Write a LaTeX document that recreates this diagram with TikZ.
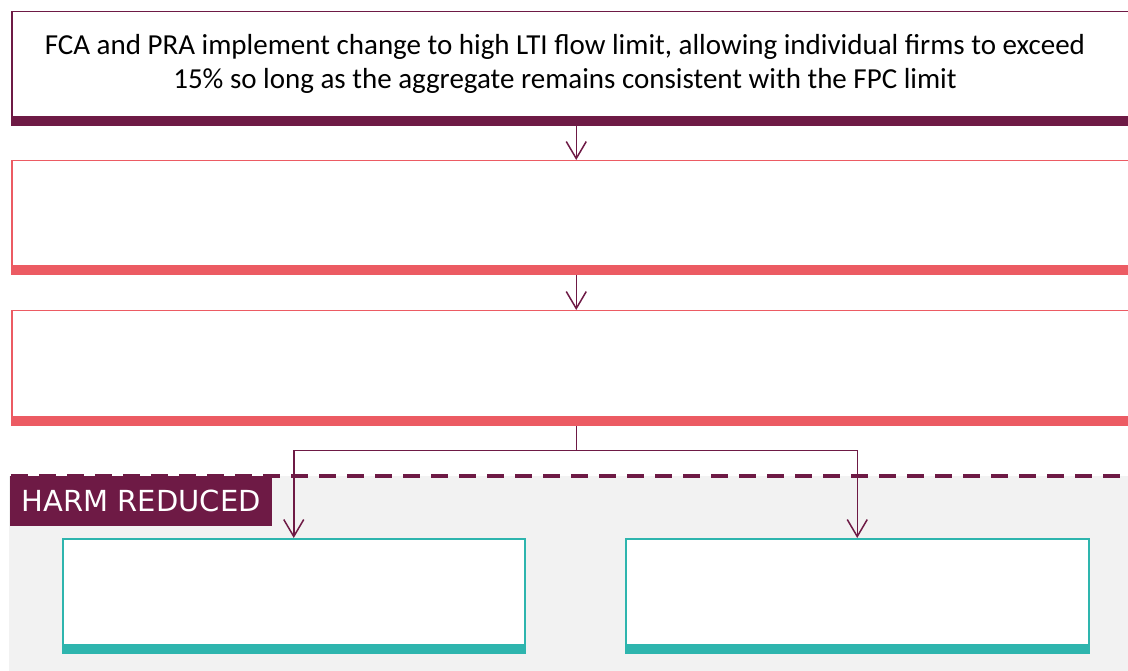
\documentclass[tikz,border=0pt]{standalone}
\usepackage{fontspec}
\setmainfont{Carlito}
\newfontfamily\harmfont{DejaVu Sans}
\usetikzlibrary{arrows.meta}
\definecolor{plum}{HTML}{6E1A45}
\definecolor{salmon}{HTML}{EC5B63}
\definecolor{tealbar}{HTML}{2EB5AE}
\definecolor{harmgrey}{HTML}{F2F2F2}
\begin{document}
\begin{tikzpicture}[x=1pt,y=-1pt,
    stage/.style={draw=#1,line width=1.5pt,fill=white,anchor=north west,inner sep=0pt,minimum height=109pt},
    bar/.style={draw=#1,line width=10pt},
    flow/.style={draw=plum,line width=1.5pt,-{Straight Barb[length=17pt,width=20pt,line width=1.5pt]}},
    stagetext/.style={align=center,font=\fontsize{29}{34}\selectfont}]
    \useasboundingbox (0,0) rectangle (1128,671);
    \clip (0,0) rectangle (1128,671);
    % harm reduced area
    \fill[harmgrey] (9,476) rectangle (1140,680);
    \draw[plum,line width=4pt,dash pattern=on 17pt off 11pt] (11,476) -- (1140,476);
    \node[fill=plum,text=white,anchor=north west,minimum width=262pt,minimum height=50pt,inner sep=0pt,font=\harmfont\fontsize{29}{32}\selectfont] (harm) at (10,476) {HARM REDUCED};
    % stages
    \node[stage=plum,minimum width=1129pt] (policy) at (11,11) {};
    \node[stage=salmon,minimum width=1129pt] (second) at (11,160) {};
    \node[stage=salmon,minimum width=1129pt] (third) at (11,310) {};
    \node[stage=tealbar,minimum width=462pt] (left) at (62,538) {};
    \node[stage=tealbar,minimum width=463pt] (right) at (625,538) {};
    % connectors
    \draw[flow,shorten <=5pt] (policy.south) -- (second.north);
    \draw[flow,shorten <=5pt] (second.south) -- (third.north);
    \draw[plum,line width=1.5pt,shorten <=5pt] (third.south) -- ++(0,30) coordinate (split);
    \draw[flow] (split) -| (left.north);
    \draw[flow] (split) -| (right.north);
    % bottom bars
    \draw[bar=plum] (policy.south west) -- (policy.south east);
    \draw[bar=salmon] (second.south west) -- (second.south east);
    \draw[bar=salmon] (third.south west) -- (third.south east);
    \draw[bar=tealbar] (left.south west) -- (left.south east);
    \draw[bar=tealbar] (right.south west) -- (right.south east);
    \node[stagetext] (policytext) at (565,64) {FCA and PRA implement change to high LTI flow limit, allowing individual firms to exceed\\15\% so long as the aggregate remains consistent with the FPC limit};
\end{tikzpicture}
\end{document}
